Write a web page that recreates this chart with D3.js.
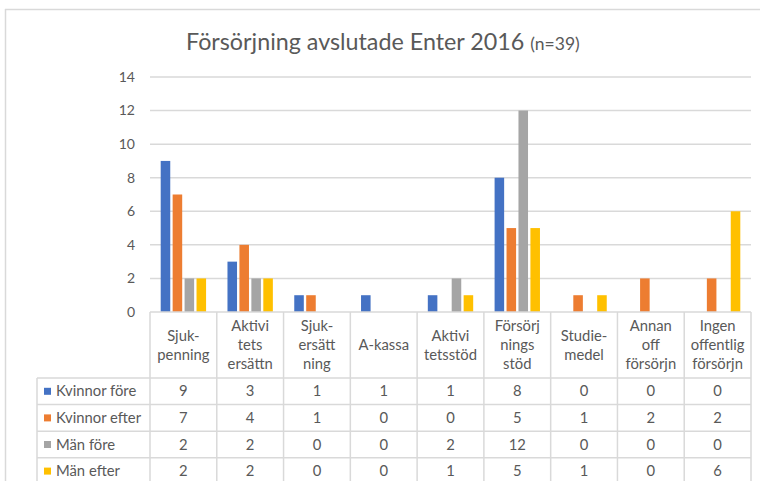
<!DOCTYPE html>
<html>
<head>
<meta charset="utf-8">
<script src="https://cdn.jsdelivr.net/npm/d3@7"></script>
<style>
  body { margin: 0; background: #fff; }
  svg text { font-family: Lato, "Open Sans", sans-serif; fill: #595959; }
</style>
</head>
<body>
<svg id="chart"></svg>
<script>
// DATA
const categories = [
  ["Sjuk-", "penning"],
  ["Aktivi", "tets", "ersättn"],
  ["Sjuk-", "ersätt", "ning"],
  ["A-kassa"],
  ["Aktivi", "tetsstöd"],
  ["Försörj", "nings", "stöd"],
  ["Studie-", "medel"],
  ["Annan", "off", "försörjn"],
  ["Ingen", "offentlig", "försörjn"]
];
const seriesNames = ["Kvinnor före", "Kvinnor efter", "Män före", "Män efter"];
const kvinnorFore = [9, 3, 1, 1, 1, 8, 0, 0, 0];
const kvinnorEfter = [7, 4, 1, 0, 0, 5, 1, 2, 2];
const manFore = [2, 2, 0, 0, 2, 12, 0, 0, 0];
const manEfter = [2, 2, 0, 0, 1, 5, 1, 0, 6];
const yTicks = [0, 2, 4, 6, 8, 10, 12, 14];

// LAYOUT PARAMETERS
const WIDTH = 760, HEIGHT = 481;
const PLOT = {left: 150, right: 751, top: 77, bottom: 312};
const TABLE = {left: 37, headerBottom: 378, rowH: 26.6};
const GRID_COLOR = "#d9d9d9";
const COLORS = ["#4472C4", "#ED7D31", "#A5A5A5", "#FFC000"];
const TXT = 14.8;

const allSeries = [kvinnorFore, kvinnorEfter, manFore, manEfter];
const catIdx = categories.map((c, i) => i);

const svg = d3.select("#chart").attr("width", WIDTH).attr("height", HEIGHT);

// frame of the chart area
svg.append("line").attr("x1", 5).attr("x2", WIDTH).attr("y1", 9.5).attr("y2", 9.5)
  .attr("stroke", GRID_COLOR).attr("stroke-width", 1.5);
svg.append("line").attr("x1", 5.5).attr("x2", 5.5).attr("y1", 9).attr("y2", HEIGHT)
  .attr("stroke", GRID_COLOR).attr("stroke-width", 1.5);

// title
const title = svg.append("text").attr("x", 186).attr("y", 50).attr("font-size", 23.3);
title.append("tspan").text("Försörjning avslutade Enter 2016 ");
title.append("tspan").attr("font-size", 17.5).text("(n=39)");

const x0 = d3.scaleBand().domain(catIdx).range([PLOT.left, PLOT.right]).padding(0);
const x1 = d3.scaleBand().domain(d3.range(allSeries.length))
  .range([10.7, x0.bandwidth() - 10.7]).paddingInner(0.2).paddingOuter(0);
const y = d3.scaleLinear().domain([0, 14]).range([PLOT.bottom, PLOT.top]);

// gridlines
svg.append("g").selectAll("line").data(yTicks.filter(t => t > 0)).enter().append("line")
  .attr("x1", PLOT.left).attr("x2", PLOT.right)
  .attr("y1", d => y(d)).attr("y2", d => y(d))
  .attr("stroke", GRID_COLOR).attr("stroke-width", 1.5);

// y axis labels
svg.append("g").selectAll("text").data(yTicks).enter().append("text")
  .attr("x", 135).attr("y", d => y(d)).attr("dy", "0.35em")
  .attr("text-anchor", "end").attr("font-size", 14)
  .text(d => d);

// bars
const groups = svg.append("g").selectAll("g").data(catIdx).enter().append("g")
  .attr("transform", i => `translate(${x0(i)},0)`);
groups.selectAll("rect")
  .data(i => allSeries.map((s, k) => ({k: k, v: s[i]})).filter(d => d.v > 0))
  .enter().append("rect")
  .attr("x", d => x1(d.k))
  .attr("width", x1.bandwidth())
  .attr("y", d => y(d.v))
  .attr("height", d => y(0) - y(d.v))
  .attr("fill", d => COLORS[d.k]);

// data table
const tbl = svg.append("g");
const rowTop = r => TABLE.headerBottom + r * TABLE.rowH;
const nRows = allSeries.length;
const tableBottom = rowTop(nRows) + 2;

// horizontal lines
tbl.append("line").attr("x1", PLOT.left).attr("x2", PLOT.right)
  .attr("y1", PLOT.bottom).attr("y2", PLOT.bottom).attr("stroke", GRID_COLOR).attr("stroke-width", 1.5);
tbl.selectAll(".hline").data(d3.range(nRows + 1)).enter().append("line")
  .attr("x1", TABLE.left).attr("x2", PLOT.right)
  .attr("y1", r => rowTop(r)).attr("y2", r => rowTop(r))
  .attr("stroke", GRID_COLOR).attr("stroke-width", 1.5);
// vertical lines
const vx = catIdx.map(i => x0(i)).concat([PLOT.right]);
tbl.selectAll(".vline").data(vx).enter().append("line")
  .attr("x1", d => d).attr("x2", d => d)
  .attr("y1", PLOT.bottom).attr("y2", tableBottom)
  .attr("stroke", GRID_COLOR).attr("stroke-width", 1.5);
tbl.append("line").attr("x1", TABLE.left).attr("x2", TABLE.left)
  .attr("y1", TABLE.headerBottom).attr("y2", tableBottom)
  .attr("stroke", GRID_COLOR).attr("stroke-width", 1.5);

// header labels
const headerMid = (PLOT.bottom + TABLE.headerBottom) / 2;
const LINE_H = 18.8;
categories.forEach((lines, i) => {
  const t = tbl.append("text").attr("text-anchor", "middle").attr("font-size", TXT)
    .attr("x", x0(i) + x0.bandwidth() / 2);
  lines.forEach((ln, j) => {
    t.append("tspan").attr("x", x0(i) + x0.bandwidth() / 2)
      .attr("y", headerMid + (j - (lines.length - 1) / 2) * LINE_H)
      .attr("dy", "0.35em").text(ln);
  });
});

// legend keys + values
seriesNames.forEach((name, r) => {
  const cy = rowTop(r) + TABLE.rowH / 2;
  tbl.append("rect").attr("x", 44).attr("y", cy - 3.5).attr("width", 7).attr("height", 7)
    .attr("fill", COLORS[r]);
  tbl.append("text").attr("x", 56).attr("y", cy).attr("dy", "0.35em")
    .attr("font-size", TXT).text(name);
  allSeries[r].forEach((v, i) => {
    tbl.append("text").attr("x", x0(i) + x0.bandwidth() / 2).attr("y", cy).attr("dy", "0.35em")
      .attr("text-anchor", "middle").attr("font-size", TXT).text(v);
  });
});
</script>
</body>
</html>
